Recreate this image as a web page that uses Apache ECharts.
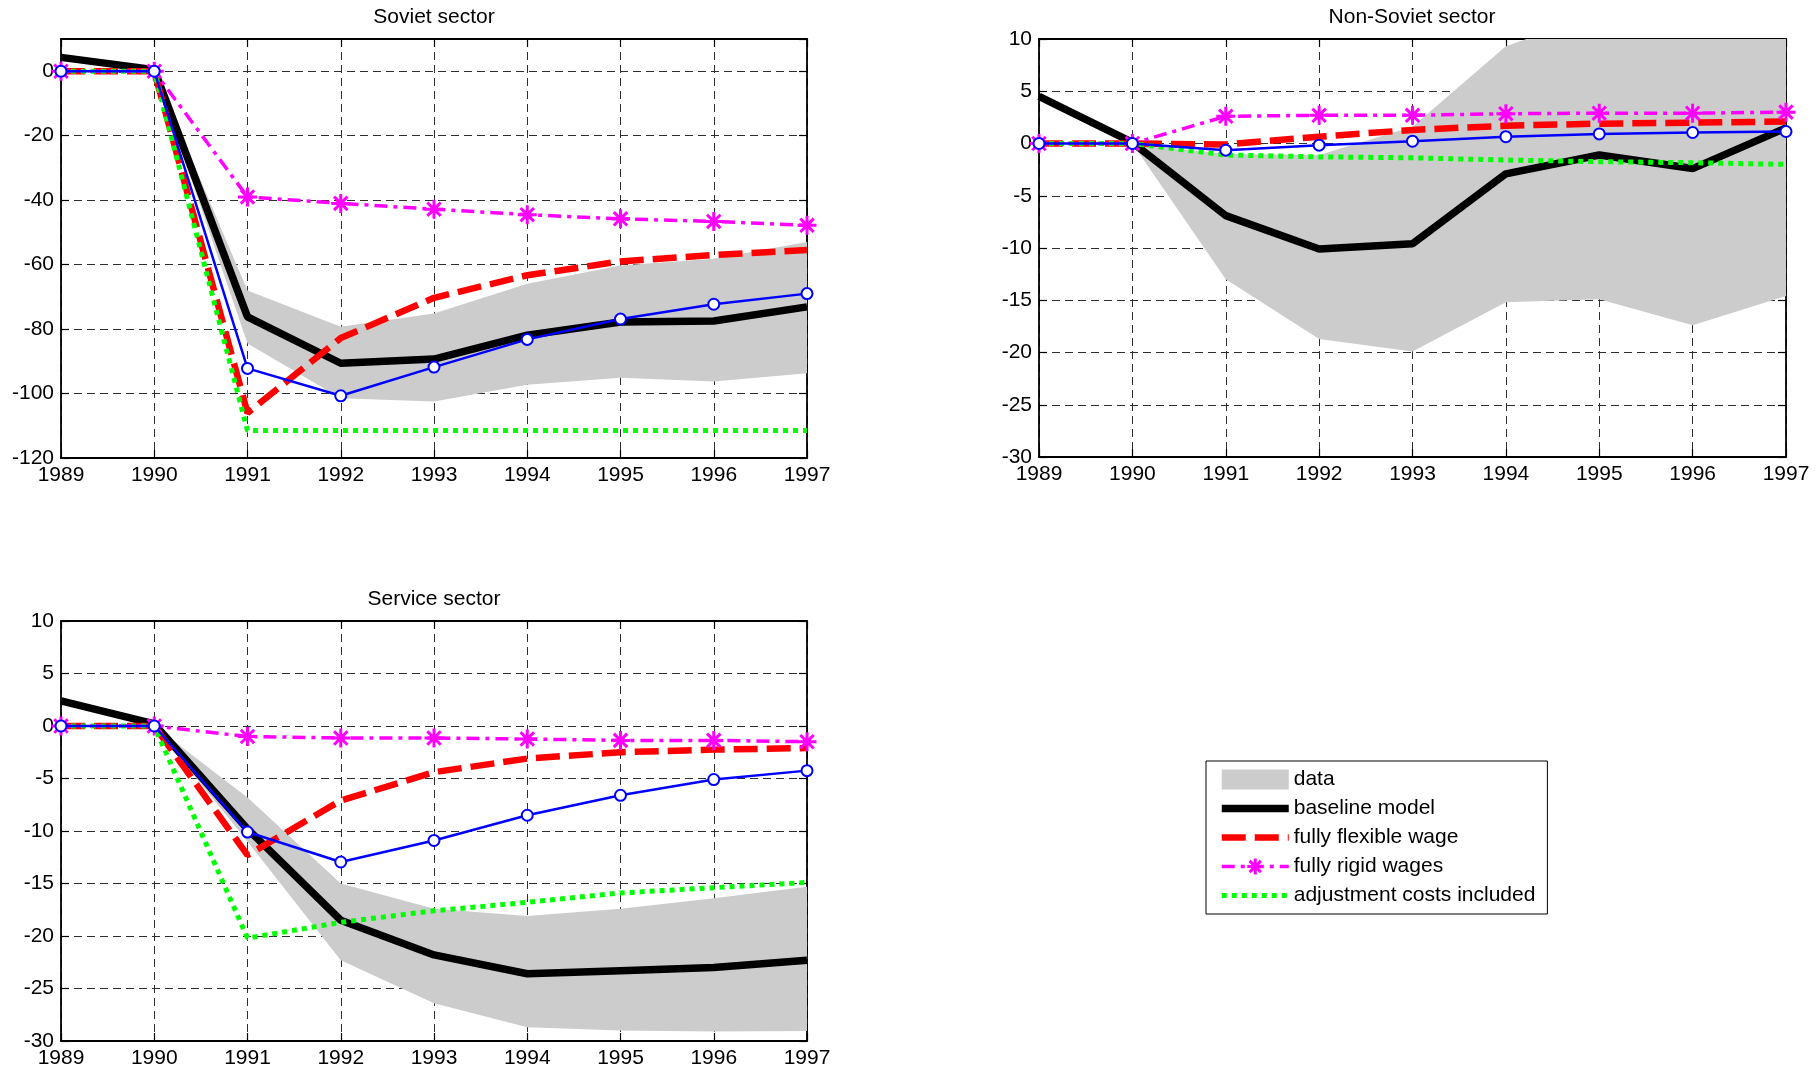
<!DOCTYPE html>
<html>
<head>
<meta charset="utf-8">
<script src="https://cdn.jsdelivr.net/npm/echarts@6/dist/echarts.min.js"></script>
<style>html,body{margin:0;padding:0;background:#fff;}#chart{width:1818px;height:1070px;}</style>
</head>
<body>
<div id="chart"></div>
<script>
// ---------- data ----------
var years = ['1989','1990','1991','1992','1993','1994','1995','1996','1997'];
var panelTitles = ['Soviet sector', 'Non-Soviet sector', 'Service sector'];
var legendNames = ['data', 'baseline model', 'fully flexible wage', 'fully rigid wages', 'adjustment costs included'];

// Soviet sector
var sovBaseline = [4.3, 0.5, -76.2, -90.6, -89.3, -81.9, -77.8, -77.5, -73.1];
var sovFlexible = [0, 0, -106, -82.8, -70.3, -63.3, -59, -57, -55.5];
var sovRigid    = [0, 0, -39, -41, -42.8, -44.5, -45.8, -46.6, -47.8];
var sovBlue     = [0, 0, -92.2, -100.7, -91.8, -83.2, -76.9, -72.3, -69];
var sovAdjust   = [0, 0, -111.5, -111.5, -111.5, -111.5, -111.5, -111.5, -111.5];
var sovDataUpper = ['-', 0, -68, -79.3, -75.2, -65.9, -60.3, -58.2, -53];
var sovDataLower = ['-', 0, -84.5, -101.5, -102.5, -97.3, -95.1, -96.3, -93.7];

// Non-Soviet sector
var nsBaseline = [4.5, 0.1, -6.9, -10.1, -9.6, -2.9, -1.1, -2.4, 1.5];
var nsFlexible = [0, 0, -0.1, 0.65, 1.3, 1.7, 1.9, 2.0, 2.1];
var nsRigid    = [0, 0, 2.6, 2.7, 2.7, 2.85, 2.9, 2.9, 3.0];
var nsBlue     = [0, 0, -0.64, -0.16, 0.22, 0.65, 0.92, 1.05, 1.15];
var nsAdjust   = [0, 0, -1.1, -1.28, -1.37, -1.58, -1.74, -1.84, -2.0];
var nsDataUpper = ['-', 0, -1.0, -1.1, 1.6, 9.3, 12.5, 13.5, 14.5];
var nsDataLower = ['-', 0, -13.0, -18.7, -19.9, -15.2, -14.9, -17.4, -14.6];

// Service sector
var svBaseline = [2.4, 0.2, -9.8, -18.5, -21.8, -23.6, -23.3, -23.0, -22.3];
var svFlexible = [0, 0, -12.3, -7.1, -4.4, -3.1, -2.5, -2.25, -2.1];
var svRigid    = [0, 0, -1.0, -1.14, -1.14, -1.24, -1.37, -1.37, -1.5];
var svBlue     = [0, 0, -10.1, -12.95, -10.9, -8.5, -6.6, -5.1, -4.25];
var svAdjust   = [0, 0, -20.2, -18.7, -17.6, -16.8, -15.9, -15.4, -14.9];
var svDataUpper = ['-', 0, -6.8, -15.0, -17.4, -18.1, -17.4, -16.4, -15.3];
var svDataLower = ['-', 0, -11.0, -22.3, -26.4, -28.7, -29.0, -29.1, -29.05];

// y-axis ranges per panel
var yMin = [-120, -30, -30];
var yMax = [10, 10, 10];
var yInterval = [20, 5, 5];

// ---------- styling ----------
var FONT = 'Liberation Sans, Arial, sans-serif';
var GRAY = '#cccccc';
var BLACK = '#000000', RED = '#ff0000', MAGENTA = '#ff00ff', BLUE = '#0000ff', GREEN = '#00ff00';
var ASTERISK = 'path://M10 0L10 20M0 10L20 10M2.93 2.93L17.07 17.07M2.93 17.07L17.07 2.93';

var grids = [
  {left: 61, top: 39, width: 746, height: 419},
  {left: 1039, top: 39, width: 747, height: 418},
  {left: 61, top: 621, width: 746, height: 420}
];
var titleCenters = [[434, 7], [1412, 7], [434, 589]];

var panels = [
  [sovBaseline, sovFlexible, sovRigid, sovBlue, sovAdjust, sovDataUpper, sovDataLower],
  [nsBaseline, nsFlexible, nsRigid, nsBlue, nsAdjust, nsDataUpper, nsDataLower],
  [svBaseline, svFlexible, svRigid, svBlue, svAdjust, svDataUpper, svDataLower]
];

var xAxes = [], yAxes = [], series = [], titles = [];
var gridLine = {show: true, lineStyle: {color: '#2e2e2e', width: 1, type: [8, 5]}};
var axisLineStyle = {show: true, onZero: false, lineStyle: {color: '#000', width: 1.8}};
var tickStyle = {show: true, inside: true, length: 8, lineStyle: {color: '#000', width: 1.2}};

panels.forEach(function (p, k) {
  titles.push({
    text: panelTitles[k], left: titleCenters[k][0], top: titleCenters[k][1], textAlign: 'center', padding: 0,
    textStyle: {fontFamily: FONT, fontSize: 21, fontWeight: 'normal', color: '#000'}
  });
  xAxes.push({
    gridIndex: k, type: 'category', data: years, boundaryGap: false, position: 'bottom',
    axisLine: axisLineStyle,
    axisTick: Object.assign({interval: 0}, tickStyle),
    axisLabel: {fontFamily: FONT, fontSize: 21, color: '#000', margin: 7, interval: 0},
    splitLine: gridLine
  });
  xAxes.push({
    gridIndex: k, type: 'category', data: years, boundaryGap: false, position: 'top',
    axisLine: axisLineStyle,
    axisTick: Object.assign({interval: 0}, tickStyle),
    axisLabel: {show: false}, splitLine: {show: false}
  });
  yAxes.push({
    gridIndex: k, type: 'value', min: yMin[k], max: yMax[k], interval: yInterval[k], position: 'left',
    axisLine: axisLineStyle,
    axisTick: tickStyle,
    axisLabel: {fontFamily: FONT, fontSize: 21, color: '#000', margin: 7, showMaxLabel: k !== 0},
    splitLine: gridLine
  });
  yAxes.push({
    gridIndex: k, type: 'value', min: yMin[k], max: yMax[k], interval: yInterval[k], position: 'right',
    axisLine: axisLineStyle,
    axisTick: tickStyle,
    axisLabel: {show: false}, splitLine: {show: false}
  });

  var xi = 2 * k, yi = 2 * k;
  var upper = p[5], lower = p[6];
  var diff = upper.map(function (u, i) { return (u === '-' || lower[i] === '-') ? '-' : u - lower[i]; });
  var common = {type: 'line', xAxisIndex: xi, yAxisIndex: yi, silent: true, animation: false};

  series.push(Object.assign({}, common, {
    name: 'data lower', data: lower, stack: 'band' + k, stackStrategy: 'all', symbol: 'none',
    lineStyle: {width: 0}, color: GRAY, z: 1
  }));
  series.push(Object.assign({}, common, {
    name: 'data', data: diff, stack: 'band' + k, stackStrategy: 'all', symbol: 'none',
    lineStyle: {width: 0}, color: GRAY, areaStyle: {color: GRAY, opacity: 1}, z: 1
  }));
  series.push(Object.assign({}, common, {
    name: 'baseline model', data: p[0], symbol: 'none', color: BLACK,
    lineStyle: {width: 7.5, color: BLACK}, z: 2
  }));
  series.push(Object.assign({}, common, {
    name: 'fully flexible wage', data: p[1], symbol: 'none', color: RED,
    lineStyle: {width: 6.5, color: RED, type: [24, 9], cap: 'butt'}, z: 3
  }));
  series.push(Object.assign({}, common, {
    name: 'fully rigid wages', data: p[2], symbol: ASTERISK, symbolSize: 19, showAllSymbol: true, color: MAGENTA,
    itemStyle: {color: MAGENTA, borderColor: MAGENTA, borderWidth: 3},
    lineStyle: {width: 3.5, color: MAGENTA, type: [13, 6, 4, 6]}, z: 4
  }));
  series.push(Object.assign({}, common, {
    name: 'adjustment costs included', data: p[4], symbol: 'none', color: GREEN,
    lineStyle: {width: 5, color: GREEN, type: [5, 5], cap: 'butt'}, z: 5
  }));
  series.push(Object.assign({}, common, {
    name: 'alternative model', data: p[3], symbol: 'emptyCircle', symbolSize: 11, showAllSymbol: true, color: BLUE,
    itemStyle: {color: BLUE, borderColor: BLUE, borderWidth: 2.5},
    lineStyle: {width: 2.5, color: BLUE}, z: 6
  }));
});

var hiddenSymbol = {opacity: 0, borderWidth: 0};
var option = {
  animation: false,
  backgroundColor: '#ffffff',
  title: titles,
  grid: grids.map(function (g) { return Object.assign({containLabel: false, outerBoundsMode: 'none'}, g); }),
  xAxis: xAxes,
  yAxis: yAxes,
  legend: {
    show: true, orient: 'vertical', left: 1206, top: 761,
    padding: [8, 12, 8, 12], itemWidth: 67, itemHeight: 20, itemGap: 8,
    backgroundColor: '#fff', borderColor: '#000', borderWidth: 1, borderRadius: 0,
    selectedMode: false,
    textStyle: {fontFamily: FONT, fontSize: 21, color: '#000'},
    data: [
      {name: legendNames[0], icon: 'rect', itemStyle: {color: GRAY, borderWidth: 0, opacity: 1}},
      {name: legendNames[1], itemStyle: hiddenSymbol, lineStyle: {width: 7.5, color: BLACK}},
      {name: legendNames[2], itemStyle: hiddenSymbol, lineStyle: {width: 6.5, color: RED, type: [24, 9]}},
      {name: legendNames[3], itemStyle: {color: MAGENTA, borderColor: MAGENTA, borderWidth: 3}, lineStyle: {width: 3.5, color: MAGENTA, type: [13, 6, 4, 6]}},
      {name: legendNames[4], itemStyle: hiddenSymbol, lineStyle: {width: 5, color: GREEN, type: [5, 5]}}
    ]
  },
  series: series
};

var chart = echarts.init(document.getElementById('chart'), null, {renderer: 'canvas'});
chart.setOption(option);
</script>
</body>
</html>
